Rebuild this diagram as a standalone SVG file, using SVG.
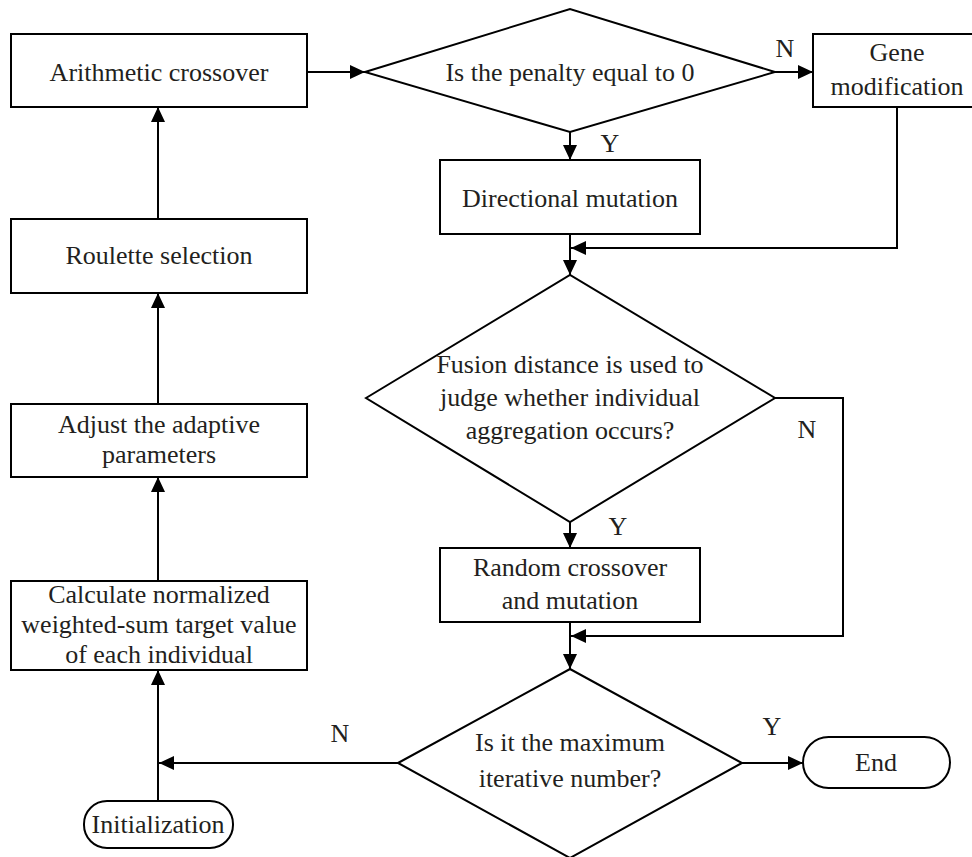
<svg xmlns="http://www.w3.org/2000/svg" width="972" height="857" viewBox="0 0 972 857">
<defs>
<style>
.box{fill:#fff;stroke:#000;stroke-width:2}
.ln{fill:none;stroke:#000;stroke-width:2;marker-end:url(#ah)}
text{font-family:"Liberation Serif","Times New Roman",serif;font-size:26px;fill:#231f20;text-anchor:middle}
</style>
<marker id="ah" markerUnits="userSpaceOnUse" markerWidth="16" markerHeight="14" refX="15" refY="7" orient="auto">
<path d="M0,0 L15,7 L0,14 z" fill="#000"/>
</marker>
</defs>
<rect width="972" height="857" fill="#fff"/>
<g id="connectors">
<path class="ln" d="M307,72 H365"/>
<path class="ln" d="M775,72 H813"/>
<path class="ln" d="M570,132 V160"/>
<path class="ln" d="M897,107 V248 H571"/>
<path class="ln" d="M570,234 V275"/>
<path class="ln" d="M570,522 V548"/>
<path class="ln" d="M775,398 H843 V636 H571"/>
<path class="ln" d="M570,622 V669"/>
<path class="ln" d="M742,763 H803"/>
<path class="ln" d="M398,763 H159"/>
<path class="ln" d="M158,801 V670"/>
<path class="ln" d="M158,581 V477"/>
<path class="ln" d="M158,404 V293"/>
<path class="ln" d="M158,219 V107"/>
<text x="785" y="57">N</text>
<text x="610" y="152">Y</text>
<text x="807" y="438">N</text>
<text x="618" y="535">Y</text>
<text x="772" y="735">Y</text>
<text x="340" y="742">N</text>
</g>
<g id="arithmetic">
<rect class="box" x="11" y="34" width="296" height="73"/>
<text x="159" y="81">Arithmetic crossover</text>
</g>
<g id="penalty">
<polygon class="box" points="365,72 570,9 775,72 570,132"/>
<text x="570" y="81">Is the penalty equal to 0</text>
</g>
<g id="gene">
<rect class="box" x="813" y="34" width="170" height="73"/>
<text x="897" y="61">Gene</text>
<text x="897" y="95">modification</text>
</g>
<g id="directional">
<rect class="box" x="440" y="160" width="260" height="74"/>
<text x="570" y="207">Directional mutation</text>
</g>
<g id="fusion">
<polygon class="box" points="366,398 570,275 775,398 570,522"/>
<text x="570" y="373">Fusion distance is used to</text>
<text x="570" y="406">judge whether individual</text>
<text x="570" y="439">aggregation occurs?</text>
</g>
<g id="random">
<rect class="box" x="440" y="548" width="260" height="74"/>
<text x="570" y="576">Random crossover</text>
<text x="570" y="609">and mutation</text>
</g>
<g id="maxiter">
<polygon class="box" points="398,763 570,669 742,763 570,858"/>
<text x="570" y="751">Is it the maximum</text>
<text x="570" y="787">iterative number?</text>
</g>
<g id="end">
<rect class="box" x="803" y="737" width="147" height="51" rx="25.5" ry="25.5"/>
<text x="876" y="771">End</text>
</g>
<g id="initialization">
<rect class="box" x="84" y="801" width="149" height="47" rx="23" ry="23"/>
<text x="158" y="833">Initialization</text>
</g>
<g id="calculate">
<rect class="box" x="11" y="581" width="296" height="89"/>
<text x="159" y="603">Calculate normalized</text>
<text x="159" y="633">weighted-sum target value</text>
<text x="159" y="663">of each individual</text>
</g>
<g id="adjust">
<rect class="box" x="11" y="404" width="296" height="73"/>
<text x="159" y="433">Adjust the adaptive</text>
<text x="159" y="463">parameters</text>
</g>
<g id="roulette">
<rect class="box" x="11" y="219" width="296" height="74"/>
<text x="159" y="264">Roulette selection</text>
</g>
</svg>
